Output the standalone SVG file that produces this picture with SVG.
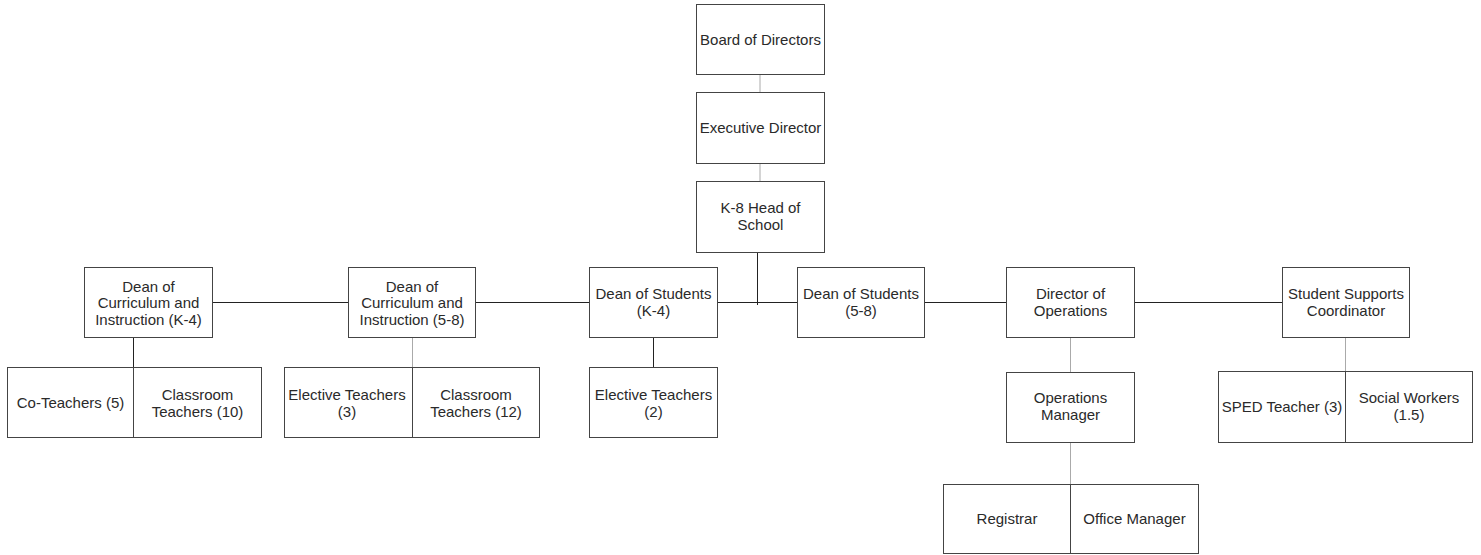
<svg xmlns="http://www.w3.org/2000/svg" width="1481" height="555" viewBox="0 0 1481 555">
<style>
.box{fill:#fff;stroke:#444;stroke-width:1}
.t{font-family:"Liberation Sans",Arial,sans-serif;font-size:15px;fill:#2a2a2a;text-anchor:middle}
.c{stroke:#222;stroke-width:1;fill:none}
.g{stroke:#aaa;stroke-width:1;fill:none}
</style>
<rect width="1481" height="555" fill="#fff"/>
<g id="connectors">
<line class="g" x1="760" y1="74.5" x2="760" y2="92.5"/>
<line class="g" x1="760" y1="163.5" x2="760" y2="181.5"/>
<line class="c" x1="757.5" y1="252.5" x2="757.5" y2="305"/>
<line class="c" x1="212" y1="302.5" x2="348" y2="302.5"/>
<line class="c" x1="475" y1="302.5" x2="589" y2="302.5"/>
<line class="c" x1="717" y1="302.5" x2="797" y2="302.5"/>
<line class="c" x1="924" y1="302.5" x2="1006" y2="302.5"/>
<line class="c" x1="1134" y1="302.5" x2="1282" y2="302.5"/>
<line class="c" x1="133.5" y1="337.5" x2="133.5" y2="367.5"/>
<line class="g" x1="412.5" y1="337.5" x2="412.5" y2="367.5"/>
<line class="c" x1="653.5" y1="337.5" x2="653.5" y2="367.5"/>
<line class="g" x1="1070.5" y1="337.5" x2="1070.5" y2="372.5"/>
<line class="g" x1="1070.5" y1="442.5" x2="1070.5" y2="484.5"/>
<line class="g" x1="1345.5" y1="337.5" x2="1345.5" y2="371.5"/>
</g>
<g id="board"><rect class="box" x="696.5" y="4.5" width="128" height="70"/><text class="t" x="760.5" y="44.5">Board of Directors</text></g>
<g id="exec"><rect class="box" x="696.5" y="92.5" width="128" height="71"/><text class="t" x="760.5" y="132.5">Executive Director</text></g>
<g id="head"><rect class="box" x="696.5" y="181.5" width="128" height="71"/><text class="t" x="760.5" y="212.5">K-8 Head of</text><text class="t" x="760.5" y="229.5">School</text></g>
<g id="dean-ci-k4"><rect class="box" x="84.5" y="267.5" width="128" height="70"/><text class="t" x="148.5" y="291.5">Dean of</text><text class="t" x="148.5" y="308">Curriculum and</text><text class="t" x="148.5" y="324.5">Instruction (K-4)</text></g>
<g id="dean-ci-58"><rect class="box" x="348.5" y="267.5" width="127" height="70"/><text class="t" x="412" y="291.5">Dean of</text><text class="t" x="412" y="308">Curriculum and</text><text class="t" x="412" y="324.5">Instruction (5-8)</text></g>
<g id="dean-s-k4"><rect class="box" x="589.5" y="267.5" width="128" height="70"/><text class="t" x="653.5" y="299">Dean of Students</text><text class="t" x="653.5" y="316">(K-4)</text></g>
<g id="dean-s-58"><rect class="box" x="797.5" y="267.5" width="127" height="70"/><text class="t" x="861" y="299">Dean of Students</text><text class="t" x="861" y="316">(5-8)</text></g>
<g id="dir-ops"><rect class="box" x="1006.5" y="267.5" width="128" height="70"/><text class="t" x="1070.5" y="299">Director of</text><text class="t" x="1070.5" y="316">Operations</text></g>
<g id="ssc"><rect class="box" x="1282.5" y="267.5" width="127" height="70"/><text class="t" x="1346" y="299">Student Supports</text><text class="t" x="1346" y="316">Coordinator</text></g>
<g id="co-teachers"><rect class="box" x="7.5" y="367.5" width="126" height="70"/><text class="t" x="70.5" y="408">Co-Teachers (5)</text></g>
<g id="classroom-10"><rect class="box" x="133.5" y="367.5" width="128" height="70"/><text class="t" x="197.5" y="399.5">Classroom</text><text class="t" x="197.5" y="416.5">Teachers (10)</text></g>
<g id="elective-3"><rect class="box" x="284.5" y="367.5" width="128" height="70"/><text class="t" x="347" y="399.5">Elective Teachers</text><text class="t" x="347" y="416.5">(3)</text></g>
<g id="classroom-12"><rect class="box" x="412.5" y="367.5" width="127" height="70"/><text class="t" x="476" y="399.5">Classroom</text><text class="t" x="476" y="416.5">Teachers (12)</text></g>
<g id="elective-2"><rect class="box" x="589.5" y="367.5" width="128" height="70"/><text class="t" x="653.5" y="399.5">Elective Teachers</text><text class="t" x="653.5" y="416.5">(2)</text></g>
<g id="ops-mgr"><rect class="box" x="1006.5" y="372.5" width="128" height="70"/><text class="t" x="1070.5" y="403">Operations</text><text class="t" x="1070.5" y="420">Manager</text></g>
<g id="sped"><rect class="box" x="1218.5" y="371.5" width="127" height="71"/><text class="t" x="1282" y="412">SPED Teacher (3)</text></g>
<g id="social"><rect class="box" x="1345.5" y="371.5" width="127" height="71"/><text class="t" x="1409" y="402.5">Social Workers</text><text class="t" x="1409" y="419.5">(1.5)</text></g>
<g id="registrar"><rect class="box" x="943.5" y="484.5" width="127" height="69"/><text class="t" x="1007" y="523.5">Registrar</text></g>
<g id="office-mgr"><rect class="box" x="1070.5" y="484.5" width="128" height="69"/><text class="t" x="1134.5" y="523.5">Office Manager</text></g>
</svg>
